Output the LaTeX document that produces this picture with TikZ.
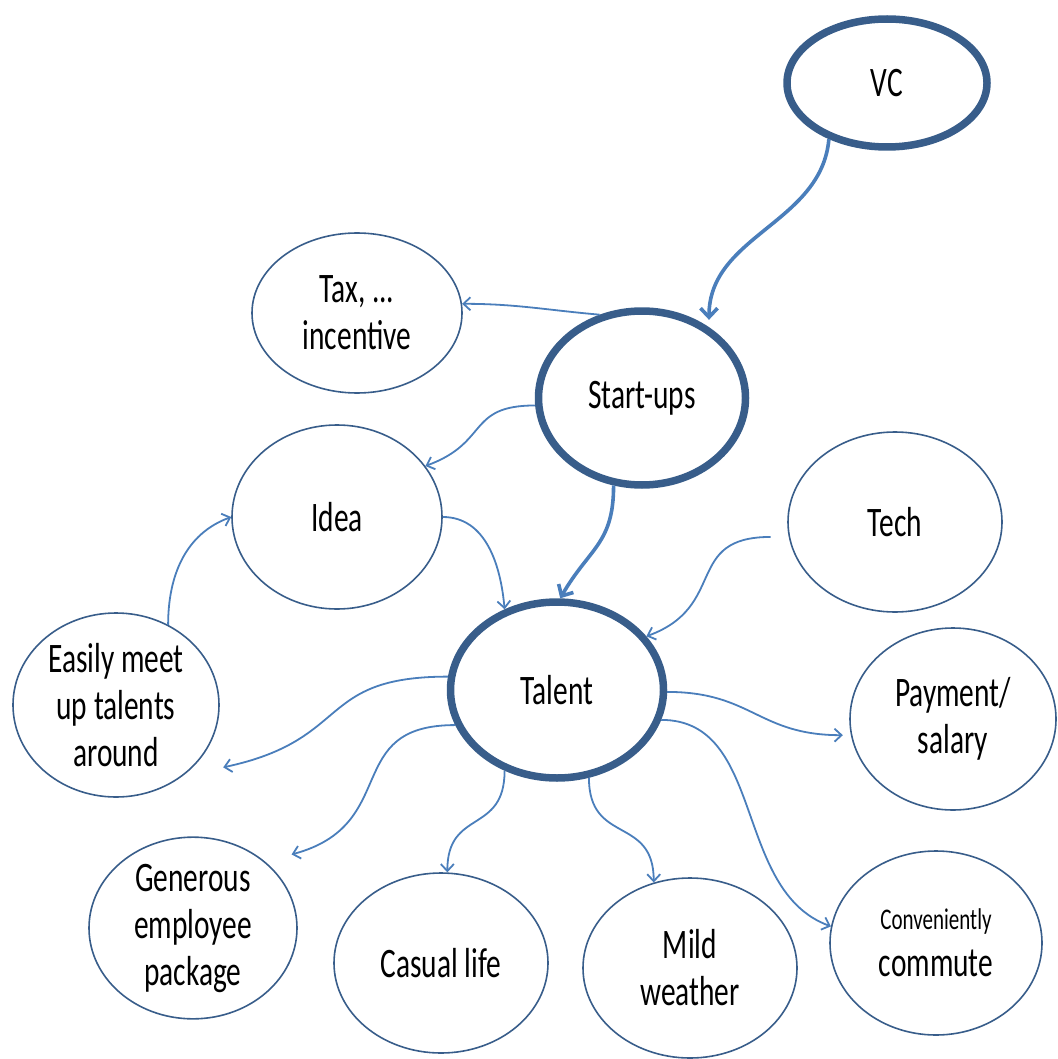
\documentclass[tikz,border=0pt]{standalone}
\usepackage{fontspec}
\setmainfont{Carlito}[FakeStretch=0.7]
\usetikzlibrary{calc,shapes.geometric,arrows.meta}
\definecolor{rimblue}{HTML}{385D8A}
\definecolor{linkblue}{HTML}{4A7EBB}
\tikzset{
    link/.style={
        draw=linkblue, line width=1.8pt,
        -{Straight Barb[length=7pt,width=13pt]}
    },
    biglink/.style={
        draw=linkblue, line width=3.6pt,
        -{Straight Barb[length=9pt,width=17pt]}
    }
}

\begin{document}
\begin{tikzpicture}[
        x=1pt, y=1pt,
        bubble/.style={
            ellipse, draw=rimblue, line width=1.6pt,
            inner sep=0pt, text=black, align=center,
            font=\fontsize{42}{47}\selectfont
        },
        hub/.style={bubble, line width=7.5pt}
      ]

  \useasboundingbox (0,0) rectangle (1057,-1059);

  \node[hub, minimum width=200pt, minimum height=128pt]    (vc)     at (887,-83)  {VC};
  \node[hub, minimum width=207pt, minimum height=174pt]    (su)     at (642,-398) {Start-ups};
  \node[hub, minimum width=213pt, minimum height=176pt]    (talent) at (557,-690) {Talent};
  \node[bubble, minimum width=210pt, minimum height=160pt] (tax)    at (357,-313) {Tax, ...\\incentive};
  \node[bubble, minimum width=210pt, minimum height=184pt] (idea)   at (337,-517) {Idea};
  \node[bubble, minimum width=214pt, minimum height=180pt] (tech)   at (895,-522) {Tech};
  \node[bubble, minimum width=206pt, minimum height=184pt] (easy)   at (116,-705) {Easily meet\\up talents\\around};
  \node[bubble, minimum width=206pt, minimum height=182pt] (pay)    at (953,-719) {Payment/\\salary};
  \node[bubble, minimum width=208pt, minimum height=180pt] (gen)    at (193,-928) {Generous\\employee\\package};
  \node[bubble, minimum width=214pt, minimum height=180pt] (casual) at (441,-963) {Casual life};
  \node[bubble, minimum width=214pt, minimum height=180pt] (mild)   at (690,-968) {Mild\\weather};
  \node[bubble, minimum width=212pt, minimum height=184pt] (conv)   at (936,-943) {{\fontsize{30}{36}\selectfont Conveniently}\\commute};

  \draw[biglink] (vc.224)     to[out=-95,in=90]  ($(su.48)+(2,6)$);
  \draw[biglink] (su.252)     to[out=-90,in=60,looseness=1.2] (talent.88);
  \draw[link]    (su.117)     to[out=175,in=0]   (tax.5);
  \draw[link]    (su.184)     to[out=180,in=20,looseness=1.4]  (idea.30);
  \draw[link]    (idea.0)     to[out=0,in=95]    (talent.123);
  \draw[link]    ($(tech.188)+(-18,0)$) to[out=180,in=20,looseness=1.4] (talent.31);
  \draw[link]    (easy.57)    to[out=90,in=200]  (idea.180);
  \draw[link]    (talent.173) to[out=180,in=12,looseness=1.4] ($(easy.330)+(20,-12)$);
  \draw[link]    (talent.359) to[out=0,in=180,looseness=1.2] ($(pay.189)+(-8,0)$);
  \draw[link]    (talent.199) to[out=180,in=15,looseness=1.4] ($(gen.36)+(18,15)$);
  \draw[link]    (talent.237) to[out=-90,in=90,looseness=1.4]  (casual.86);
  \draw[link]    (talent.290) to[out=-90,in=90,looseness=1.4]  (mild.113);
  \draw[link]    (talent.344) to[out=0,in=160]   (conv.171);

\end{tikzpicture}
\end{document}
